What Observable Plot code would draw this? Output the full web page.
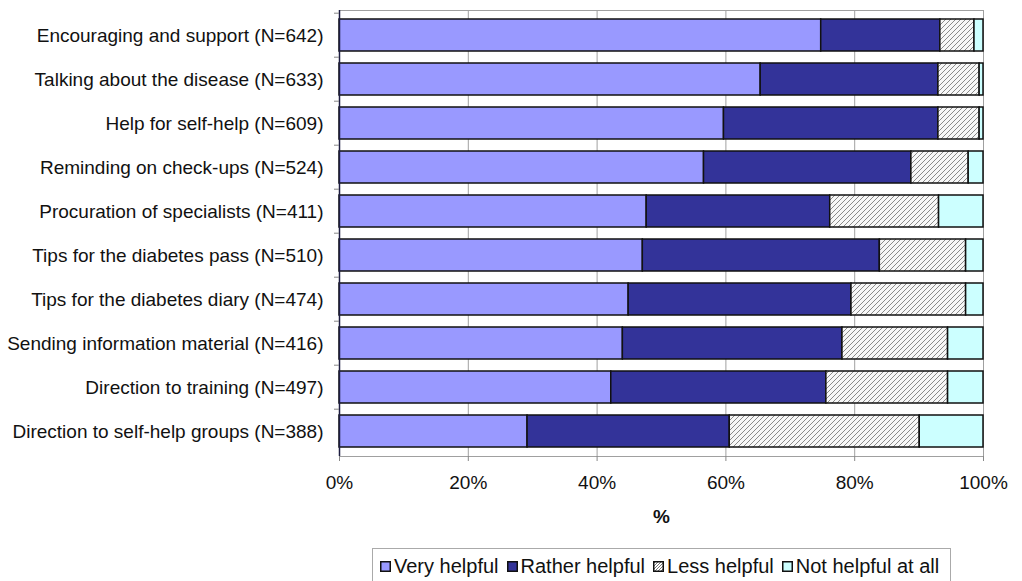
<!DOCTYPE html>
<html>
<head>
<meta charset="utf-8">
<script src="https://cdn.jsdelivr.net/npm/d3@7"></script>
<script src="https://cdn.jsdelivr.net/npm/@observablehq/plot@0.6"></script>
<style>
  html, body { margin: 0; padding: 0; background: #fff; }
  body { width: 1022px; height: 581px; overflow: hidden; position: relative; font-family: "Liberation Sans", Arial, sans-serif; }
  #legend { position: absolute; left: 372px; top: 548px; width: 570px; height: 40px; border: 1px solid #aaa; background: #fff;
            display: flex; align-items: flex-start; padding-left: 7px; padding-top: 6px; box-sizing: content-box; font-size: 20px; line-height: 22px; color: #111; }
  .item { display: flex; align-items: center; margin-right: 8px; }
  .item svg { margin-right: 3px; }
</style>
</head>
<body>
<div id="chart"></div>
<div id="legend"></div>
<script>
const categories = [
  "Encouraging and support (N=642)",
  "Talking about the disease (N=633)",
  "Help for self-help (N=609)",
  "Reminding on check-ups (N=524)",
  "Procuration of specialists (N=411)",
  "Tips for the diabetes pass (N=510)",
  "Tips for the diabetes diary (N=474)",
  "Sending information material (N=416)",
  "Direction to training (N=497)",
  "Direction to self-help groups (N=388)"
];
const series = ["Very helpful", "Rather helpful", "Less helpful", "Not helpful at all"];
const veryHelpful   = [74.8, 65.4, 59.7, 56.6, 47.7, 47.1, 44.9, 44.0, 42.2, 29.2];
const ratherHelpful = [18.5, 27.6, 33.3, 32.2, 28.5, 36.8, 34.6, 34.1, 33.4, 31.4];
const lessHelpful   = [ 5.3,  6.4,  6.4,  8.9, 16.9, 13.4, 17.8, 16.4, 18.9, 29.5];
const notHelpful    = [ 1.4,  0.6,  0.6,  2.3,  6.9,  2.7,  2.7,  5.5,  5.5,  9.9];
const xTicks = [0, 20, 40, 60, 80, 100];
const gridTicks = [20, 40, 60, 80];

const colors = ["#9999FF", "#333399", "url(#hatch)", "#CCFFFF"];
const seriesValues = [veryHelpful, ratherHelpful, lessHelpful, notHelpful];

const data = [];
categories.forEach((c, i) => {
  series.forEach((s, j) => data.push({category: c, response: s, value: seriesValues[j][i]}));
});

const W = 1022, H = 548, mT = 10, mB = 92, mL = 339, mR = 39;
const step = (H - mT - mB) / categories.length;

const chart = Plot.plot({
  width: W, height: H,
  marginTop: mT, marginBottom: mB, marginLeft: mL, marginRight: mR,
  style: {fontFamily: "'Liberation Sans', Arial, sans-serif", fontSize: "19px", color: "#111", background: "white", overflow: "visible"},
  x: {domain: [0, 100]},
  y: {domain: categories, paddingInner: 0.28, paddingOuter: 0.14},
  color: {domain: series, range: colors},
  marks: [
    Plot.frame({stroke: "#a0a0a0"}),
    Plot.gridX({ticks: gridTicks, stroke: "#a0a0a0", strokeOpacity: 1}),
    Plot.barX(data, Plot.stackX({x: "value", y: "category", fill: "response", stroke: "#111", strokeWidth: 1.5, order: series})),
    Plot.ruleX([0], {stroke: "#1c1c40", strokeWidth: 1.5}),
    Plot.axisX({ticks: xTicks, tickFormat: d => d + "%", tickSize: 5, tickPadding: 14, stroke: "#888", fill: "#111", label: null, fontSize: 19}),
    Plot.axisY({tickSize: 0, tickPadding: 16, label: null, fill: "#111", fontSize: 19}),
    Plot.axisY({tickSize: 5, tickFormat: () => "", dy: -step / 2, stroke: "#888", label: null}),
    Plot.text(["%"], {frameAnchor: "bottom", dy: 66, fontWeight: "bold", fontSize: 19, fill: "#111"})
  ]
});

// hatch pattern definition
const ns = "http://www.w3.org/2000/svg";
function addHatch(svg, id) {
  const defs = document.createElementNS(ns, "defs");
  defs.innerHTML = `<pattern id="${id}" patternUnits="userSpaceOnUse" width="5" height="5">
      <rect width="5" height="5" fill="#f7f7f7"/>
      <path d="M-1,1 l2,-2 M0,5 l5,-5 M4,6 l2,-2" stroke="#8a8a8a" stroke-width="1"/>
    </pattern>`;
  svg.insertBefore(defs, svg.firstChild);
}
addHatch(chart, "hatch");
document.getElementById("chart").appendChild(chart);

// legend
const legend = document.getElementById("legend");
series.forEach((s, j) => {
  const item = document.createElement("div");
  item.className = "item";
  const fill = j === 2 ? "url(#hatchL)" : colors[j];
  item.innerHTML = `<svg width="11" height="11" viewBox="0 0 11 11">
      ${j === 2 ? `<defs><pattern id="hatchL" patternUnits="userSpaceOnUse" width="3" height="3"><rect width="3" height="3" fill="#fff"/><path d="M-1,1 l2,-2 M0,3 l3,-3 M2,4 l2,-2" stroke="#555" stroke-width="0.8"/></pattern></defs>` : ""}
      <rect x="0.75" y="0.75" width="9.5" height="9.5" fill="${fill}" stroke="#111" stroke-width="1.5"/></svg><span>${s}</span>`;
  legend.appendChild(item);
});
</script>
</body>
</html>
